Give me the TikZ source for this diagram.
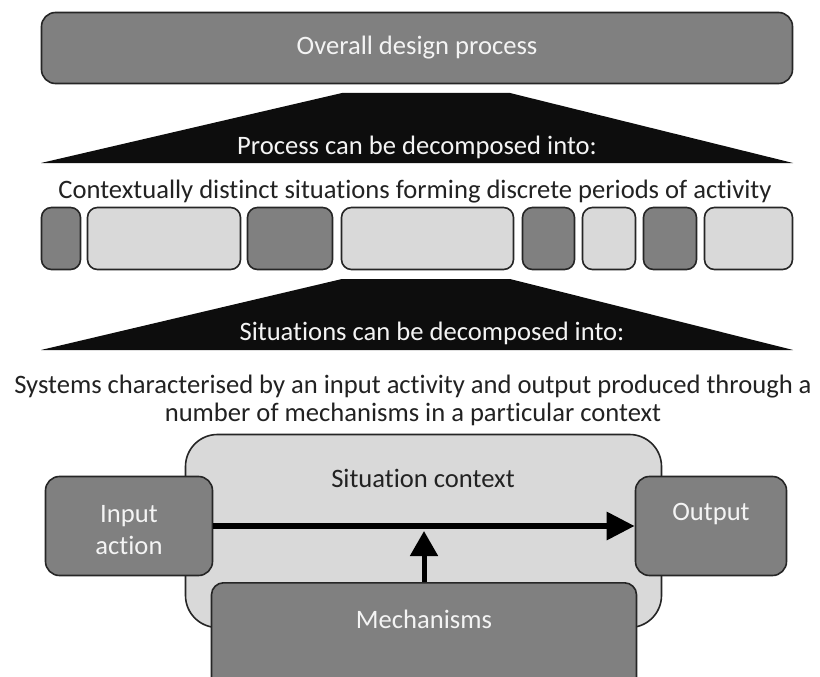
\documentclass[tikz,border=0pt]{standalone}
\usepackage{fontspec}
\setmainfont{Carlito}[Ligatures=NoCommon]
\usetikzlibrary{arrows.meta}
\definecolor{darkg}{HTML}{808080}
\definecolor{lightg}{HTML}{D9D9D9}
\definecolor{edge}{HTML}{262626}
\definecolor{trap}{HTML}{0D0D0D}
\definecolor{txt}{HTML}{222222}
\definecolor{wtxt}{HTML}{F4F4F4}
\begin{document}
\begin{tikzpicture}[x=1pt,y=-1pt,
  box/.style={draw=edge, line width=1.6pt, inner sep=0pt},
  darkbox/.style={box, fill=darkg},
  lightbox/.style={box, fill=lightg},
  wlabel/.style={font=\fontsize{26.6}{32}\selectfont, text=wtxt, inner sep=0pt, align=center},
  blabel/.style={font=\fontsize{26.6}{28}\selectfont, text=txt, inner sep=0pt, align=center},
  flow/.style={line width=6pt, draw=black, -{Triangle[length=28pt,width=27pt]}},
  flowup/.style={line width=5pt, draw=black, -{Triangle[length=25pt,width=27pt]}},
]
\clip (0,0) rectangle (820,677);
\fill[white] (0,0) rectangle (820,677);

% top box
\node[darkbox, rounded corners=14pt, minimum width=751pt, minimum height=71pt] (overall) at (417,48) {};
\node[wlabel] (overallt) at (417,48) {Overall design process};

% trapezoid 1
\fill[trap] (41,163) -- (342,93) -- (510,93) -- (793,163) -- cycle;
\node[wlabel] (proc) at (417,147) {Process can be decomposed into:};

\node[blabel] (ctxline) at (415,192) {Contextually distinct situations forming discrete periods of activity};

% row of situations
\tikzset{rowbox/.style={rounded corners=10pt, minimum height=62pt}}
\node[darkbox, rowbox, minimum width=39pt] (s1) at (61,238.5) {};
\node[lightbox, rowbox, minimum width=153pt] (s2) at (164,238.5) {};
\node[darkbox, rowbox, minimum width=85pt] (s3) at (290,238.5) {};
\node[lightbox, rowbox, minimum width=172pt] (s4) at (427.5,238.5) {};
\node[darkbox, rowbox, minimum width=52pt] (s5) at (548.5,238.5) {};
\node[lightbox, rowbox, minimum width=53pt] (s6) at (609,238.5) {};
\node[darkbox, rowbox, minimum width=53pt] (s7) at (670,238.5) {};
\node[lightbox, rowbox, minimum width=88pt] (s8) at (748.5,238.5) {};

% trapezoid 2
\fill[trap] (41,350) -- (342,279) -- (510,279) -- (793,350) -- cycle;
\node[wlabel] (sit) at (432,333) {Situations can be decomposed into:};

\node[blabel] (sys) at (413,400) {Systems characterised by an input activity and output produced through a\\number of mechanisms in a particular context};

% system
\node[lightbox, rounded corners=32pt, minimum width=476pt, minimum height=193pt] (ctx) at (423.5,531) {};
\node[blabel] (ctxt) at (423,478) {Situation context};
\node[darkbox, rounded corners=14pt, minimum width=167pt, minimum height=99pt] (input) at (129,526) {};
\node[wlabel] (inputt) at (129,530) {Input\\action};
\node[darkbox, rounded corners=14pt, minimum width=151pt, minimum height=99pt] (output) at (711,526) {};
\node[wlabel] (outputt) at (711,514) {Output};
\node[darkbox, rounded corners=12pt, minimum width=425pt, minimum height=140pt, anchor=north] (mech) at (424,582) {};
\node[wlabel] (mecht) at (424,619) {Mechanisms};

\coordinate (mtip) at (424,531);
\draw[flow] (input.east) -- (output.west);
\draw[flowup] (mech.north) -- (mtip);
\end{tikzpicture}
\end{document}
